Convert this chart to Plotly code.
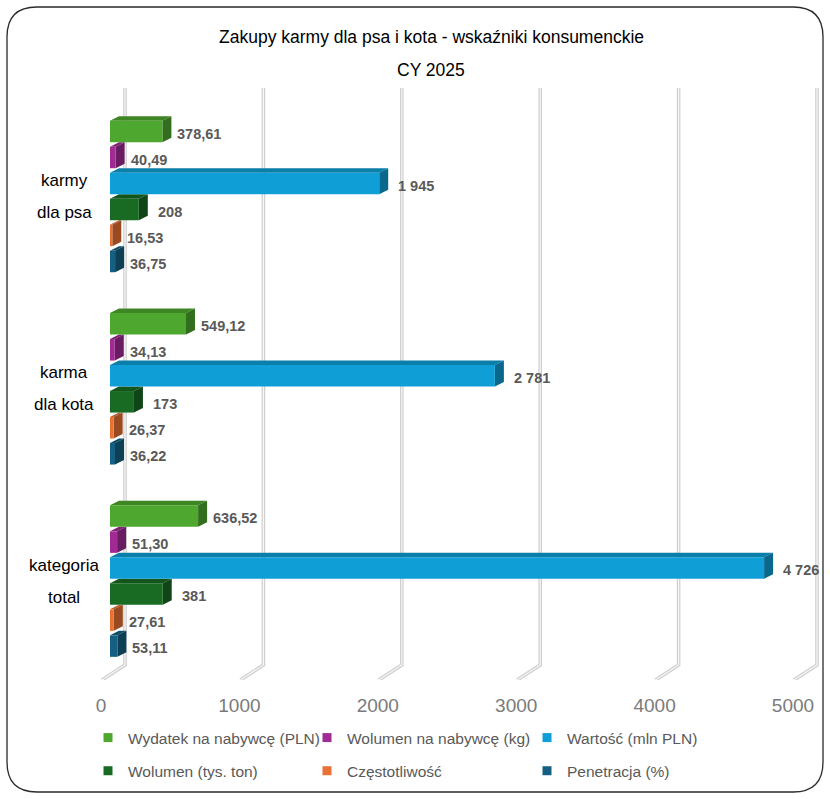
import plotly.graph_objects as go

# ---------------- data ----------------
categories = [["karmy", "dla psa"], ["karma", "dla kota"], ["kategoria", "total"]]
series_names = ["Wydatek na nabywcę (PLN)", "Wolumen na nabywcę (kg)", "Wartość (mln PLN)",
                "Wolumen (tys. ton)", "Częstotliwość", "Penetracja (%)"]
series_colors = ["#4EA72E", "#A02B93", "#0F9ED5", "#196B24", "#E97132", "#156082"]
series_decimals = [2, 2, 0, 0, 2, 2]
wydatek = [378.61, 549.12, 636.52]
wolumen_na_nabywce = [40.49, 34.13, 51.30]
wartosc = [1945, 2781, 4726]
wolumen = [208, 173, 381]
czestotliwosc = [16.53, 26.37, 27.61]
penetracja = [36.75, 36.22, 53.11]
series_values = [wydatek, wolumen_na_nabywce, wartosc, wolumen, czestotliwosc, penetracja]
x_ticks = [0, 1000, 2000, 3000, 4000, 5000]
x_tick_labels = ["0", "1000", "2000", "3000", "4000", "5000"]
title_lines = ["Zakupy karmy dla psa i kota - wskaźniki konsumenckie", "CY 2025"]

# ---------------- geometry / style ----------------
W, H = 830, 799
ML, MR, MT, MB = 95, 5, 88, 119
PW, PH = W - ML - MR, H - MT - MB
X0_PX, X_SCALE = 110.0, 692.0 / 5000.0        # px of value 0, px per unit
Y0_PX, Y_SCALE = 196.5, 192.3                 # px of first group centre, px per group
x_range = [(ML - X0_PX) / X_SCALE, (W - MR - X0_PX) / X_SCALE]
y_range = [(H - MB - Y0_PX) / Y_SCALE, (MT - Y0_PX) / Y_SCALE]
BAR_PITCH, BAR_H, DEP_X, DEP_Y = 26.0, 21.5, 9.0, 4.5

FONT = "Liberation Sans, Arial, sans-serif"
GRAY = "#595959"


def ydata(py):
    return (py - Y0_PX) / Y_SCALE


def px_paper_x(p):
    return (p - ML) / PW


def px_paper_y(p):
    return (H - MB - p) / PH


def shade(hexcol, f):
    h = hexcol.lstrip("#")
    r, g, b = (int(h[i:i + 2], 16) for i in (0, 2, 4))
    return "#%02X%02X%02X" % (int(r * f), int(g * f), int(b * f))


def fmt(v, d):
    s = f"{v:,.{d}f}"
    return s.replace(",", "\u00a0").replace(".", ",")


def num(v):
    return f"{v:.6f}"


n_series = len(series_names)
bw = BAR_H / Y_SCALE
dxd = DEP_X / X_SCALE
dyd = DEP_Y / Y_SCALE

fig = go.Figure()
shapes = []
annotations = []

# gridlines (3D back wall + floor edge)
for t in x_ticks:
    xb = t + 15 / X_SCALE
    xf = t - 8 / X_SCALE
    path = (f"M {num(xb)},{num(ydata(MT))} L {num(xb)},{num(ydata(665))} "
            f"L {num(xf)},{num(ydata(680))}")
    shapes.append(dict(type="path", path=path, xref="x", yref="y", layer="between",
                       line=dict(color="#CFCFCF", width=3.6)))
    shapes.append(dict(type="path", path=path, xref="x", yref="y", layer="between",
                       line=dict(color="#F7F7F7", width=1.2)))

legend_ids = ["legend", "legend2", "legend3"]
for j, (name, col, vals, dec) in enumerate(zip(series_names, series_colors, series_values, series_decimals)):
    ypos = [i + (j - (n_series - 1) / 2) * BAR_PITCH / Y_SCALE for i in range(len(categories))]
    fig.add_trace(go.Bar(x=vals, y=ypos, orientation="h", width=bw, name=name,
                         marker=dict(color=col, line=dict(width=0)), showlegend=False,
                         hovertemplate=name + ": %{x}<extra></extra>"))
    # legend entry
    fig.add_trace(go.Scatter(x=[None], y=[None], mode="markers", name=name,
                             marker=dict(symbol="square", size=9, color=col),
                             legend=legend_ids[j % 3], legendgroup=name, showlegend=True))
    for v, yc in zip(vals, ypos):
        top, bot = yc - bw / 2, yc + bw / 2
        shapes.append(dict(type="path", xref="x", yref="y", layer="between", line=dict(width=0),
                           fillcolor=shade(col, 0.8),
                           path=(f"M 0,{num(top)} L {num(v)},{num(top)} L {num(v + dxd)},{num(top - dyd)} "
                                 f"L {num(dxd)},{num(top - dyd)} Z")))
        shapes.append(dict(type="path", xref="x", yref="y", layer="between", line=dict(width=0),
                           fillcolor=shade(col, 0.66),
                           path=(f"M {num(v)},{num(top)} L {num(v)},{num(bot)} L {num(v + dxd)},{num(bot - dyd)} "
                                 f"L {num(v + dxd)},{num(top - dyd)} Z")))
        annotations.append(dict(x=v, y=yc, xref="x", yref="y", text=fmt(v, dec), showarrow=False,
                                xanchor="left", yanchor="middle", xshift=13 if dec else 17, yshift=-2,
                                font=dict(family=FONT, size=14.5, color=GRAY, weight="bold")))

# category labels (two lines each)
for i, lines in enumerate(categories):
    for k, line in enumerate(lines):
        annotations.append(dict(x=0, y=i, xref="x", yref="y", text=line, showarrow=False,
                                xanchor="center", yanchor="middle", xshift=64 - X0_PX,
                                yshift=16 - 32 * k,
                                font=dict(family=FONT, size=17, color="#000000")))

# title lines
for line, py in zip(title_lines, [37, 70]):
    annotations.append(dict(x=px_paper_x(431), y=px_paper_y(py), xref="paper", yref="paper",
                            text=line, showarrow=False, xanchor="center", yanchor="middle",
                            font=dict(family=FONT, size=17.5, color="#000000")))

# rounded frame
L, T, R, B, RAD = 7, 7, 823, 792, 30
fx, fy = px_paper_x, px_paper_y
frame = (f"M {num(fx(L + RAD))},{num(fy(T))} L {num(fx(R - RAD))},{num(fy(T))} "
         f"Q {num(fx(R))},{num(fy(T))} {num(fx(R))},{num(fy(T + RAD))} "
         f"L {num(fx(R))},{num(fy(B - RAD))} Q {num(fx(R))},{num(fy(B))} {num(fx(R - RAD))},{num(fy(B))} "
         f"L {num(fx(L + RAD))},{num(fy(B))} Q {num(fx(L))},{num(fy(B))} {num(fx(L))},{num(fy(B - RAD))} "
         f"L {num(fx(L))},{num(fy(T + RAD))} Q {num(fx(L))},{num(fy(T))} {num(fx(L + RAD))},{num(fy(T))} Z")
shapes.append(dict(type="path", path=frame, xref="paper", yref="paper", layer="above",
                   line=dict(color="#2A2A2A", width=1.3)))

legend_common = dict(orientation="v", xref="container", yref="container", xanchor="left",
                     yanchor="top", tracegroupgap=10, bgcolor="rgba(0,0,0,0)",
                     font=dict(family=FONT, size=15.5, color=GRAY), itemclick=False,
                     itemdoubleclick=False)
leg_x = [88, 307, 527]
leg_top = 721
fig.update_layout(
    width=W, height=H,
    margin=dict(l=ML, r=MR, t=MT, b=MB, pad=0, autoexpand=False),
    paper_bgcolor="white", plot_bgcolor="white",
    barmode="overlay",
    xaxis=dict(range=x_range, tickvals=x_ticks, ticktext=x_tick_labels, showgrid=False,
               zeroline=False, showline=False, ticks="", ticklabelshift=-9, ticklabelstandoff=12,
               tickfont=dict(family=FONT, size=19, color="#7A7A7A"), fixedrange=True),
    yaxis=dict(range=y_range, showgrid=False, zeroline=False, showline=False,
               showticklabels=False, ticks="", fixedrange=True),
    shapes=shapes,
    annotations=annotations,
    legend=dict(x=leg_x[0] / W, y=1 - leg_top / H, **legend_common),
    legend2=dict(x=leg_x[1] / W, y=1 - leg_top / H, **legend_common),
    legend3=dict(x=leg_x[2] / W, y=1 - leg_top / H, **legend_common),
    showlegend=True,
)

fig.write_html("out.html", config={"displayModeBar": False},
               post_script="document.body.style.margin='0';document.body.style.overflow='hidden';")
